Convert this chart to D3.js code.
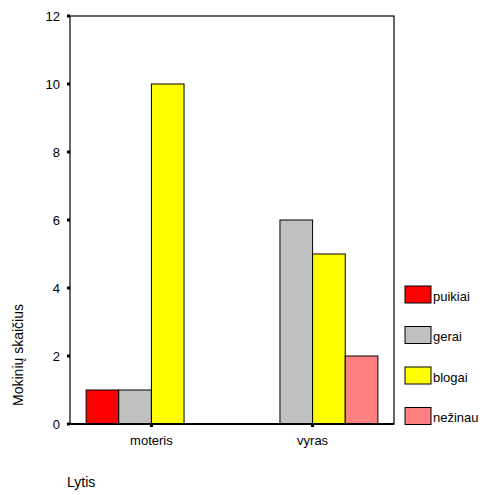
<!DOCTYPE html>
<html><head><meta charset="utf-8">
<script src="https://cdn.jsdelivr.net/npm/d3@7"></script>
<style>body{margin:0;background:#fff}svg{display:block}text{font-family:"Liberation Sans",Arial,sans-serif}</style>
</head><body>
<script>
const categories = ["moteris", "vyras"];
const seriesNames = ["puikiai", "gerai", "blogai", "nežinau"];
const seriesColors = ["#ff0000", "#c0c0c0", "#ffff00", "#ff8080"];
const puikiai = [1, 0];
const gerai = [1, 6];
const blogai = [10, 5];
const nezinau = [0, 2];
const yTicks = [0, 2, 4, 6, 8, 10, 12];
const xTitle = "Lytis";
const yTitle = "Mokinių skaičius";

const values = [puikiai, gerai, blogai, nezinau];
const W = 488, H = 495;
const m = {left: 70, right: 394, top: 16, bottom: 424};
const svg = d3.select("body").append("svg").attr("width", W).attr("height", H);

const x0 = d3.scaleBand().domain(categories).range([m.left, m.right]).paddingInner(0.19).paddingOuter(0.1);
const x1 = d3.scaleBand().domain(seriesNames).range([0, x0.bandwidth()]);
const y = d3.scaleLinear().domain([0, 12]).range([m.bottom, m.top]);

// frame
svg.append("rect").attr("x", m.left).attr("y", m.top).attr("width", m.right - m.left).attr("height", m.bottom - m.top)
  .attr("fill", "none").attr("stroke", "#000").attr("stroke-width", 1.2);

// bars
const data = [];
categories.forEach((c, ci) => seriesNames.forEach((s, si) => {
  if (values[si][ci] > 0) data.push({c, s, si, v: values[si][ci]});
}));
svg.append("g").selectAll("rect").data(data).join("rect")
  .attr("x", d => x0(d.c) + x1(d.s))
  .attr("y", d => y(d.v))
  .attr("width", x1.bandwidth())
  .attr("height", d => y(0) - y(d.v))
  .attr("fill", d => seriesColors[d.si])
  .attr("stroke", "#000").attr("stroke-width", 1);

// bottom axis line
svg.append("line").attr("x1", m.left - 3).attr("x2", m.right).attr("y1", m.bottom).attr("y2", m.bottom)
  .attr("stroke", "#000").attr("stroke-width", 2);

// y ticks
const yAxis = d3.axisLeft(y).tickValues(yTicks).tickSize(0).tickPadding(10);
const gy = svg.append("g").attr("transform", `translate(${m.left},0)`).call(yAxis);
gy.select(".domain").remove();
gy.selectAll("text").attr("font-size", 13).attr("fill", "#000").style("font-family", '"Liberation Sans",Arial,sans-serif');
svg.append("g").selectAll("rect").data(yTicks).join("rect")
  .attr("x", m.left - 3).attr("y", d => y(d) - 1.5).attr("width", 3).attr("height", 3).attr("fill", "#000");

// x ticks
const xAxis = d3.axisBottom(x0).tickSize(0).tickPadding(12);
const gx = svg.append("g").attr("transform", `translate(0,${m.bottom})`).call(xAxis);
gx.select(".domain").remove();
gx.selectAll("text").attr("font-size", 13).attr("fill", "#000").style("font-family", '"Liberation Sans",Arial,sans-serif');
svg.append("g").selectAll("rect").data(categories).join("rect")
  .attr("x", d => x0(d) + x0.bandwidth() / 2 - 1.5).attr("y", m.bottom).attr("width", 3).attr("height", 3).attr("fill", "#000");

// titles
svg.append("text").attr("x", 67).attr("y", 487).attr("font-size", 14).text(xTitle);
svg.append("text").attr("transform", "translate(23,355) rotate(-90)").attr("text-anchor", "middle").attr("font-size", 14).text(yTitle);

// legend
const lg = svg.append("g").selectAll("g").data(seriesNames).join("g")
  .attr("transform", (d, i) => `translate(405,${286 + i * 40.5})`);
lg.append("rect").attr("width", 26).attr("height", 17).attr("fill", (d, i) => seriesColors[i]).attr("stroke", "#000").attr("stroke-width", 1);
lg.append("text").attr("x", 28).attr("y", 14.5).attr("font-size", 13).text(d => d);
</script>
</body></html>
